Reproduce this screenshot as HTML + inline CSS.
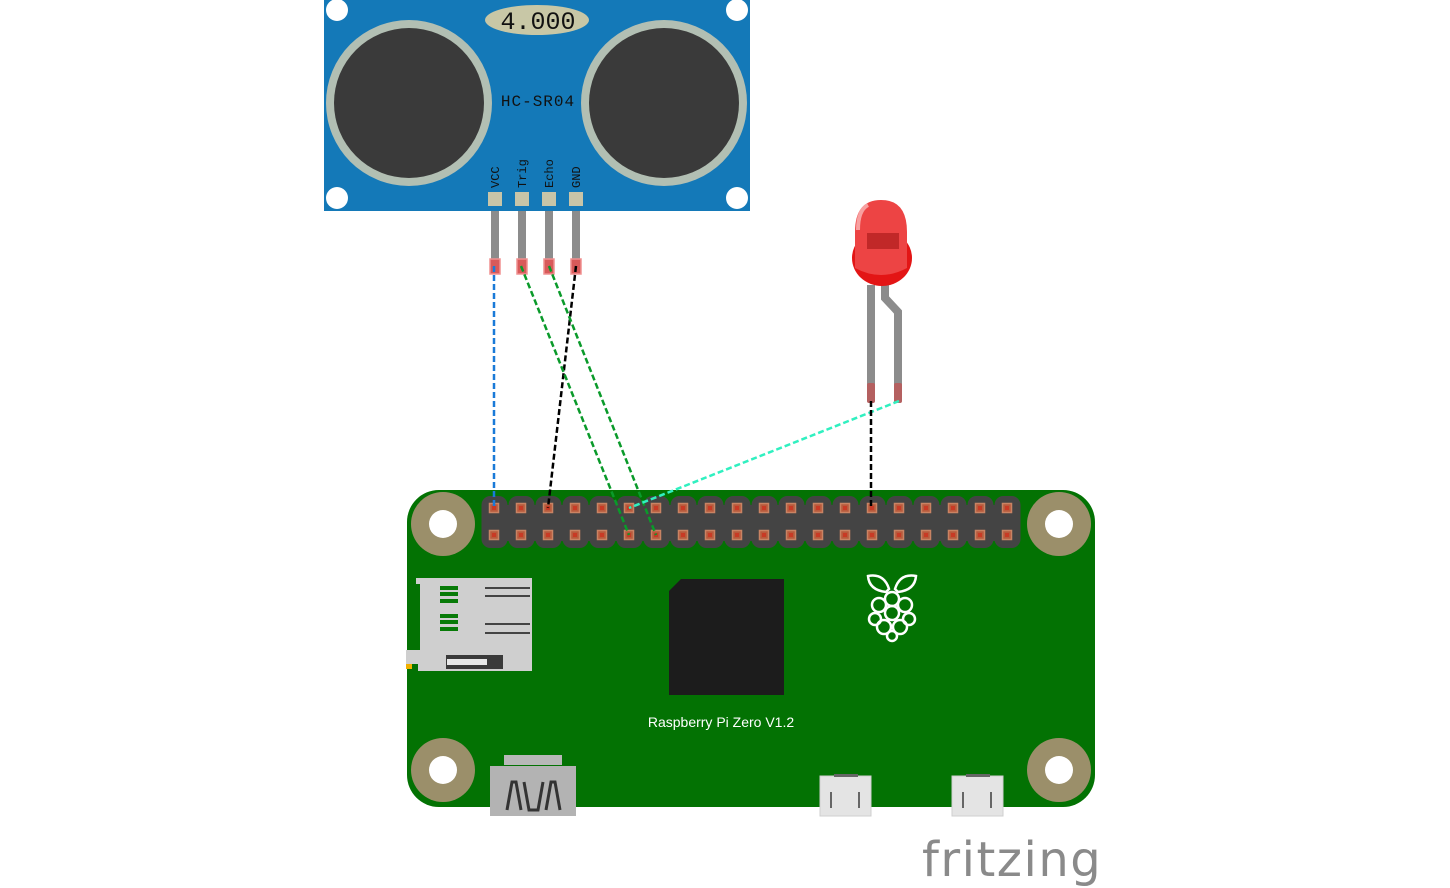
<!DOCTYPE html>
<html><head><meta charset="utf-8"><style>
html,body{margin:0;padding:0;background:#fff;}
svg{display:block;}
</style></head><body>
<svg width="1450" height="888" viewBox="0 0 1450 888" xmlns="http://www.w3.org/2000/svg">
<defs>
<pattern id="hdr" patternUnits="userSpaceOnUse" x="481" y="496" width="27" height="60">
<rect x="0.5" y="0" width="26" height="52" rx="9" fill="#444"/>
</pattern>
<pattern id="pins" patternUnits="userSpaceOnUse" x="480.5" y="494.5" width="27" height="27">
<rect x="9" y="9" width="9" height="9" fill="#b85a3c" stroke="#c98363" stroke-width="1.5"/>
<rect x="11.5" y="11.5" width="4" height="4" fill="#c83a25"/>
</pattern>
</defs>

<!-- HC-SR04 -->
<rect x="324" y="0" width="426" height="211" fill="#1479b8"/>
<circle cx="337" cy="10" r="11" fill="#fff"/>
<circle cx="737" cy="10" r="11" fill="#fff"/>
<circle cx="337" cy="198" r="11" fill="#fff"/>
<circle cx="737" cy="198" r="11" fill="#fff"/>
<circle cx="409" cy="103" r="83" fill="#b2bfb3"/>
<circle cx="409" cy="103" r="75" fill="#3a3a3a"/>
<circle cx="664" cy="103" r="83" fill="#b2bfb3"/>
<circle cx="664" cy="103" r="75" fill="#3a3a3a"/>
<ellipse cx="537" cy="20" rx="52" ry="15" fill="#c8c7a6"/>
<text x="538" y="29" text-anchor="middle" font-family="Liberation Mono, monospace" font-size="25" fill="#111">4.000</text>
<text x="538" y="106" text-anchor="middle" font-family="Liberation Mono, monospace" font-size="16" fill="#111" letter-spacing="1">HC-SR04</text>
<g font-family="Liberation Mono, monospace" font-size="12" fill="#111">
<text transform="translate(499,188) rotate(-90)">VCC</text>
<text transform="translate(526,188) rotate(-90)">Trig</text>
<text transform="translate(553,188) rotate(-90)">Echo</text>
<text transform="translate(580,188) rotate(-90)">GND</text>
</g>
<g fill="#c8c5a8">
<rect x="488" y="192" width="14" height="14"/><rect x="515" y="192" width="14" height="14"/>
<rect x="542" y="192" width="14" height="14"/><rect x="569" y="192" width="14" height="14"/>
</g>
<g fill="#8c8c8c">
<rect x="491" y="211" width="8" height="62"/><rect x="518" y="211" width="8" height="62"/>
<rect x="545" y="211" width="8" height="62"/><rect x="572" y="211" width="8" height="62"/>
</g>
<g fill="#d85a5a" stroke="#f09090" stroke-width="1.5">
<rect x="490" y="259" width="10" height="15"/><rect x="517" y="259" width="10" height="15"/>
<rect x="544" y="259" width="10" height="15"/><rect x="571" y="259" width="10" height="15"/>
</g>

<!-- LED -->
<rect x="867" y="285" width="8" height="110" fill="#8c8c8c"/>
<path d="M885 285 L885 298 L898 312 L898 395" fill="none" stroke="#8c8c8c" stroke-width="8"/>
<rect x="867" y="383" width="8" height="20" rx="2" fill="#b46060"/>
<rect x="894" y="383" width="8" height="20" rx="2" fill="#b46060"/>
<ellipse cx="882" cy="258" rx="30" ry="28" fill="#e31515"/>
<path d="M855 232 Q855 200 881 200 Q907 200 907 232 L907 268 Q881 282 855 268 Z" fill="#ed4444"/>
<rect x="867" y="233" width="32" height="16" fill="#b52222" opacity="0.8"/>
<path d="M858 230 Q858 210 868 205" stroke="#f8a0a0" stroke-width="4" fill="none"/>

<!-- Pi board -->
<rect x="407" y="490" width="688" height="317" rx="32" fill="#037203"/>
<rect x="481" y="496" width="540" height="54" fill="url(#hdr)"/>
<rect x="482" y="505" width="538" height="36" fill="#444"/>
<rect x="480.5" y="494.5" width="540" height="54" fill="url(#pins)"/>
<g fill="#9b8f6a">
<circle cx="443" cy="524" r="32"/><circle cx="1059" cy="524" r="32"/>
<circle cx="443" cy="770" r="32"/><circle cx="1059" cy="770" r="32"/>
</g>
<g fill="#fff">
<circle cx="443" cy="524" r="14"/><circle cx="1059" cy="524" r="14"/>
<circle cx="443" cy="770" r="14"/><circle cx="1059" cy="770" r="14"/>
</g>
<path d="M681 579 L784 579 L784 695 L669 695 L669 591 Z" fill="#1c1c1c"/>
<text x="721" y="727" text-anchor="middle" font-family="Liberation Sans, sans-serif" font-size="14" fill="#fff">Raspberry Pi Zero V1.2</text>

<!-- SD slot -->
<path d="M416 578 L532 578 L532 671 L418 671 L418 664 L406 664 L406 650 L420 650 L420 584 L416 584 Z" fill="#cfcfcf"/>
<rect x="406" y="664" width="6" height="5" fill="#f0b000"/>
<rect x="446" y="655" width="57" height="14" fill="#3a3a3a"/>
<rect x="447" y="659" width="40" height="6" fill="#e8e8e8"/>
<g fill="#077a07">
<rect x="440" y="586" width="18" height="4"/><rect x="440" y="592" width="18" height="4"/><rect x="440" y="599" width="18" height="4"/>
<rect x="440" y="614" width="18" height="4"/><rect x="440" y="620" width="18" height="4"/><rect x="440" y="627" width="18" height="4"/>
</g>
<g stroke="#444" stroke-width="2">
<line x1="485" y1="588" x2="530" y2="588"/><line x1="485" y1="596" x2="530" y2="596"/>
<line x1="485" y1="624" x2="530" y2="624"/><line x1="485" y1="633" x2="530" y2="633"/>
</g>

<!-- HDMI -->
<rect x="504" y="755" width="58" height="10" fill="#b8b8b8"/>
<rect x="490" y="766" width="86" height="50" fill="#b3b3b3"/>
<path d="M507 810 L512 782 L516 782 L521 810 M524 782 L529 810 L538 810 L543 782 M546 810 L551 782 L555 782 L560 810" stroke="#333" stroke-width="3" fill="none"/>

<!-- micro USB -->
<g fill="#e4e4e4" stroke="#cfcfcf">
<rect x="820" y="776" width="51" height="40"/>
<rect x="952" y="776" width="51" height="40"/>
</g>
<g fill="#666">
<rect x="834" y="774" width="24" height="3"/><rect x="966" y="774" width="24" height="3"/>
<rect x="830" y="792" width="2" height="16"/><rect x="858" y="792" width="2" height="16"/>
<rect x="962" y="792" width="2" height="16"/><rect x="990" y="792" width="2" height="16"/>
</g>

<!-- raspberry logo -->
<g fill="none" stroke="#fff" stroke-width="2.5">
<path d="M886 592 Q869 590 868 576 Q884 573 889 589 Z M898 592 Q915 590 916 576 Q900 573 895 589 Z"/>
<circle cx="892" cy="599" r="7"/><circle cx="879" cy="605" r="7"/><circle cx="905" cy="605" r="7"/>
<circle cx="892" cy="613" r="7"/><circle cx="875" cy="619" r="6"/><circle cx="909" cy="619" r="6"/>
<circle cx="884" cy="627" r="7"/><circle cx="900" cy="627" r="7"/><circle cx="892" cy="636" r="5"/>
</g>

<!-- fritzing -->
<text x="922" y="876" font-family="DejaVu Sans, Liberation Sans, sans-serif" font-size="48" fill="#8a8a8a" letter-spacing="1.5">fritzing</text>

<!-- wires -->
<g fill="none" stroke-width="2.5" stroke-dasharray="6,3">
<line x1="494" y1="266" x2="494" y2="508" stroke="#1a7ad8"/>
<line x1="576" y1="266" x2="548" y2="508" stroke="#000"/>
<line x1="521" y1="266" x2="629" y2="535" stroke="#0a9a2a"/>
<line x1="549" y1="266" x2="656" y2="535" stroke="#0a9a2a"/>
<line x1="899" y1="401" x2="629" y2="508" stroke="#30f0c0"/>
<line x1="871" y1="401" x2="871" y2="508" stroke="#000"/>
</g>
</svg>
</body></html>
